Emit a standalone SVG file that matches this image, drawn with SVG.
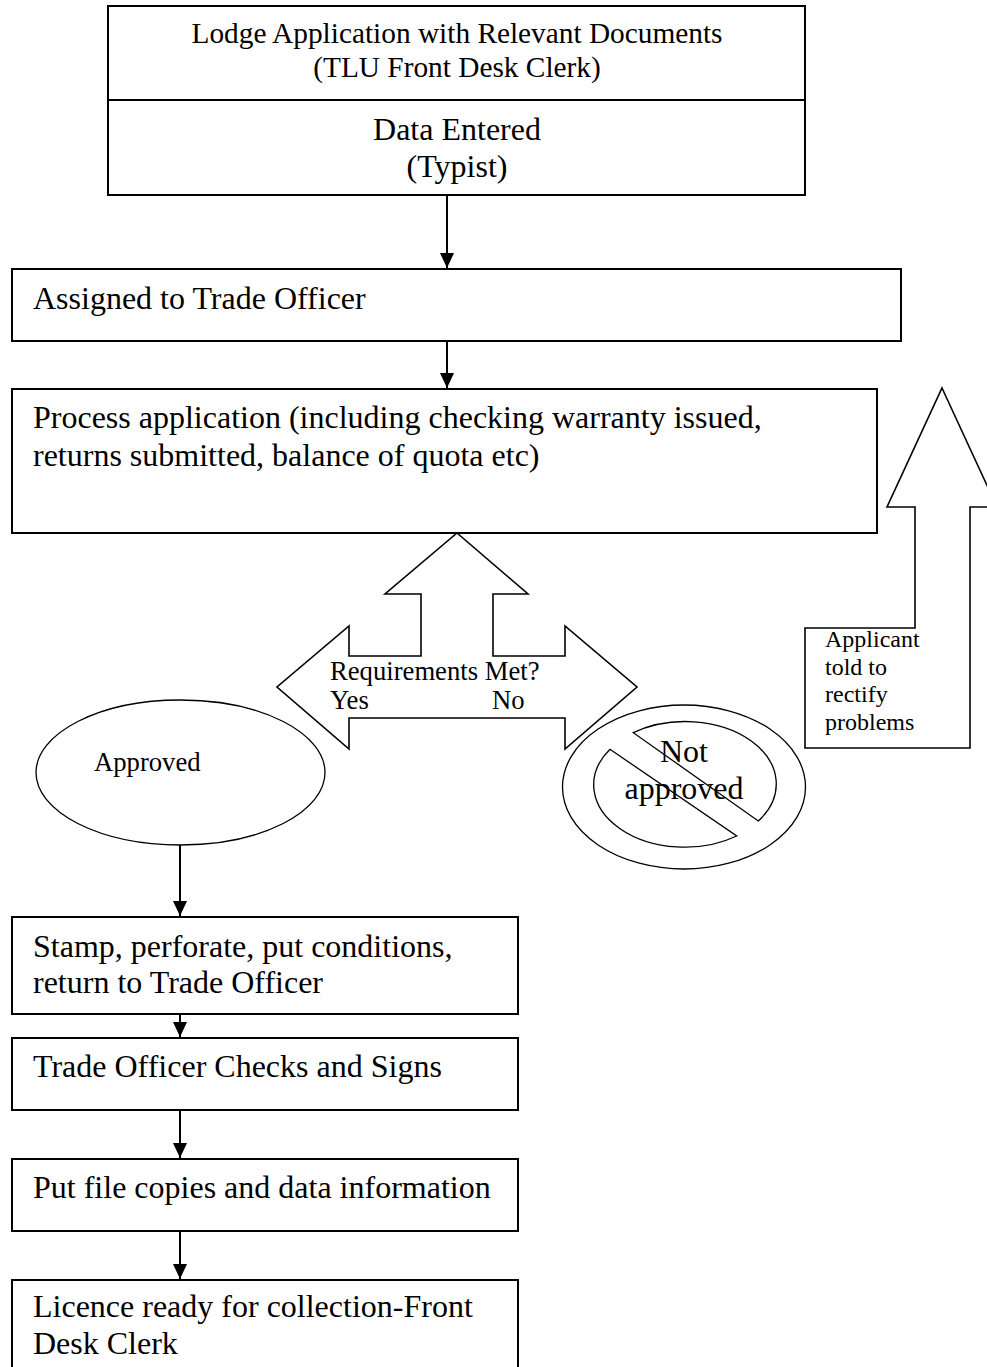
<svg xmlns="http://www.w3.org/2000/svg" width="987" height="1367" viewBox="0 0 987 1367">
<style>
.box{fill:#fff;stroke:#000;stroke-width:2}
.shape{fill:#fff;stroke:#000;stroke-width:1.6;stroke-linejoin:miter}
.thin{fill:#fff;stroke:#000;stroke-width:1.3}
.conn{fill:none;stroke:#000;stroke-width:2}
text{font-family:"Liberation Serif","Times New Roman",serif;fill:#000}
.t32{font-size:32px}
.t29{font-size:29.33px}
.t27{font-size:26.67px}
.t24{font-size:24px}
</style>
<defs>
<marker id="ah" markerUnits="userSpaceOnUse" markerWidth="16" markerHeight="16" viewBox="0 0 16 16" refX="15" refY="8" orient="auto">
<path d="M0,1 L15,8 L0,15 Z" fill="#000"/>
</marker>
</defs>

<g id="connectors">
<path class="conn" d="M447,196 V268" marker-end="url(#ah)"/>
<path class="conn" d="M447,341 V388" marker-end="url(#ah)"/>
<path class="conn" d="M180,845 V916" marker-end="url(#ah)"/>
<path class="conn" d="M180,1014 V1037" marker-end="url(#ah)"/>
<path class="conn" d="M180,1110 V1158" marker-end="url(#ah)"/>
<path class="conn" d="M180,1231 V1279" marker-end="url(#ah)"/>
</g>

<g id="node-lodge">
<rect class="box" x="108" y="6" width="697" height="189"/>
<line x1="108" y1="100" x2="805" y2="100" stroke="#000" stroke-width="2"/>
<text class="t29" x="457" y="43" text-anchor="middle">Lodge Application with Relevant Documents</text>
<text class="t29" x="457" y="77" text-anchor="middle">(TLU Front Desk Clerk)</text>
<text class="t32" x="457" y="140" text-anchor="middle">Data Entered</text>
<text class="t32" x="457" y="177" text-anchor="middle">(Typist)</text>
</g>

<g id="node-assigned">
<rect class="box" x="12" y="269" width="889" height="72"/>
<text class="t32" x="33" y="309">Assigned to Trade Officer</text>
</g>

<g id="node-process">
<rect class="box" x="12" y="389" width="865" height="144"/>
<text class="t32" x="33" y="428">Process application (including checking warranty issued,</text>
<text class="t32" x="33" y="466">returns submitted, balance of quota etc)</text>
</g>

<g id="node-decision">
<polygon class="shape" points="457,533 528,594 493,594 493,656 565,656 565,626 637,687 565,749 565,718 349,718 349,749 277,687 349,626 349,656 421,656 421,594 385,594"/>
<text class="t27" x="330" y="680">Requirements Met?</text>
<text class="t27" x="330" y="709">Yes</text>
<text class="t27" x="492" y="709">No</text>
</g>

<g id="node-rectify">
<polygon class="shape" points="942,388 997,507 970,507 970,748 805,748 805,628 915,628 915,507 887,507"/>
<text class="t24" x="825" y="647">Applicant</text>
<text class="t24" x="825" y="675">told to</text>
<text class="t24" x="825" y="702">rectify</text>
<text class="t24" x="825" y="730">problems</text>
</g>

<g id="node-approved">
<ellipse class="thin" cx="180.5" cy="772.5" rx="144.5" ry="72.5"/>
<text class="t27" x="94" y="771">Approved</text>
</g>

<g id="node-not-approved">
<ellipse class="thin" cx="684" cy="787" rx="121.5" ry="82"/>
<path class="thin" d="M633.3,732.7 A91,62.3 0 0 1 758.3,821 Z"/>
<path class="thin" d="M610,749.3 A91,62.3 0 0 0 736.7,836 Z"/>
<text class="t32" x="684" y="762" text-anchor="middle">Not</text>
<text class="t32" x="684" y="799" text-anchor="middle">approved</text>
</g>

<g id="node-stamp">
<rect class="box" x="12" y="917" width="506" height="97"/>
<text class="t32" x="33" y="957">Stamp, perforate, put conditions,</text>
<text class="t32" x="33" y="993">return to Trade Officer</text>
</g>

<g id="node-checks">
<rect class="box" x="12" y="1038" width="506" height="72"/>
<text class="t32" x="33" y="1077">Trade Officer Checks and Signs</text>
</g>

<g id="node-copies">
<rect class="box" x="12" y="1159" width="506" height="72"/>
<text class="t32" x="33" y="1198">Put file copies and data information</text>
</g>

<g id="node-licence">
<rect class="box" x="12" y="1280" width="506" height="100"/>
<text class="t32" x="33" y="1317">Licence ready for collection-Front</text>
<text class="t32" x="33" y="1354">Desk Clerk</text>
</g>
</svg>
